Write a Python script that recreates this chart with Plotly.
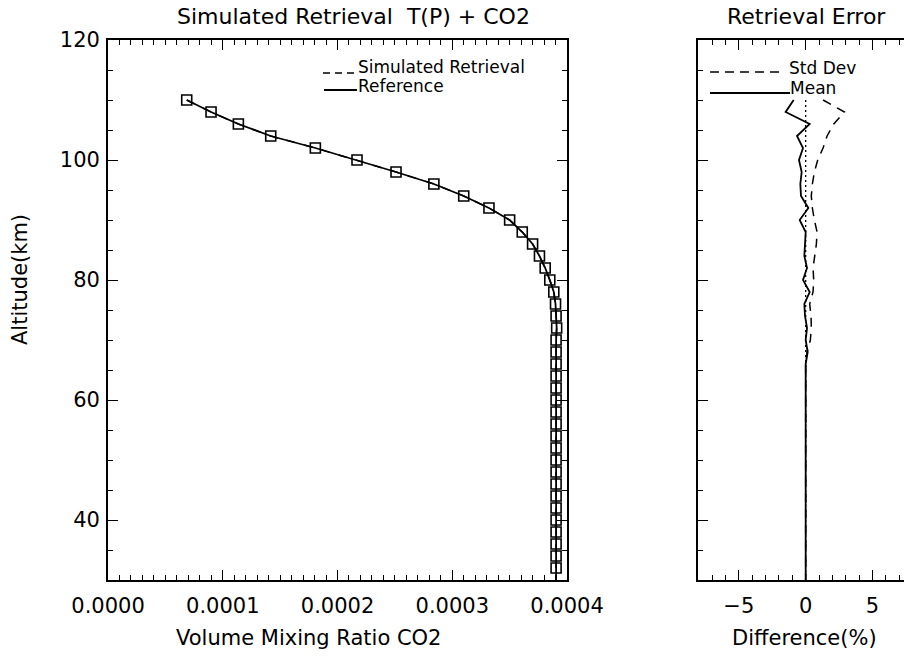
import plotly.graph_objects as go

# ---------------- data ----------------
alt_sim = [110, 108, 106, 104, 102, 100, 98, 96, 94, 92, 90, 88, 86, 84, 82, 80, 78, 76, 74, 72,
           70, 68, 66, 64, 62, 60, 58, 56, 54, 52, 50, 48, 46, 44, 42, 40, 38, 36, 34, 32]
vmr_sim = [0.686e-4, 0.898e-4, 1.136e-4, 1.418e-4, 1.807e-4, 2.170e-4, 2.510e-4, 2.840e-4, 3.100e-4,
           3.320e-4, 3.500e-4, 3.610e-4, 3.700e-4, 3.760e-4, 3.810e-4, 3.850e-4, 3.885e-4, 3.900e-4,
           3.905e-4, 3.910e-4, 3.905e-4, 3.905e-4, 3.905e-4, 3.905e-4, 3.905e-4, 3.905e-4, 3.905e-4,
           3.905e-4, 3.905e-4, 3.905e-4, 3.905e-4, 3.905e-4, 3.905e-4, 3.905e-4, 3.905e-4, 3.905e-4,
           3.905e-4, 3.905e-4, 3.905e-4, 3.905e-4]
alt_ref = [110, 108, 106, 104, 102, 100, 98, 96, 94, 92, 90, 88, 86, 84, 82, 80, 78, 76, 74, 72,
           70, 60, 50, 40, 30]
vmr_ref = [0.686e-4, 0.898e-4, 1.136e-4, 1.418e-4, 1.807e-4, 2.170e-4, 2.510e-4, 2.840e-4, 3.100e-4,
           3.320e-4, 3.500e-4, 3.610e-4, 3.700e-4, 3.760e-4, 3.810e-4, 3.850e-4, 3.885e-4, 3.900e-4,
           3.905e-4, 3.910e-4, 3.905e-4, 3.905e-4, 3.905e-4, 3.905e-4, 3.905e-4]

alt_err = [110, 108, 106, 104, 102, 100, 98, 96, 94, 92, 90, 88, 86, 84, 82, 80, 78, 76, 74, 72,
           70, 68, 66, 60, 50, 40, 30]
mean_err = [-0.9, -1.5, 0.3, -0.65, -0.2, -0.5, -0.3, -0.4, -0.35, 0.2, -0.45, 0.0, -0.05, -0.1, 0.1,
            -0.2, 0.3, -0.1, -0.05, 0.1, 0.0, 0.15, 0.0, 0.0, 0.0, 0.0, 0.0]
std_err = [1.3, 2.9, 2.1, 1.6, 1.3, 0.9, 0.65, 0.5, 0.42, 0.5, 0.65, 0.85, 0.8, 0.65, 0.55, 0.6, 0.55,
           0.3, 0.4, 0.42, 0.35, 0.1, 0.0, 0.0, 0.0, 0.0, 0.0]
zero_alt = [110, 30]
zero_val = [0, 0]

x1_tickvals = [0.0, 0.0001, 0.0002, 0.0003, 0.0004]
x1_ticktext = ["0.0000", "0.0001", "0.0002", "0.0003", "0.0004"]
x2_tickvals = [-5, 0, 5]
y_tickvals = [40, 60, 80, 100, 120]

# ---------------- figure ----------------
W, H = 904, 656
FONT = "DejaVu Sans"


def px(x):
    return x / W


def py(y):
    return 1 - y / H


fig = go.Figure()

fig.add_trace(go.Scatter(x=vmr_sim, y=alt_sim, mode="lines", xaxis="x", yaxis="y",
                         line=dict(color="black", width=1.5, dash="dash"), showlegend=False))
fig.add_trace(go.Scatter(x=vmr_ref, y=alt_ref, mode="lines", xaxis="x", yaxis="y",
                         line=dict(color="black", width=1.8), showlegend=False))
fig.add_trace(go.Scatter(x=vmr_sim, y=alt_sim, mode="markers", xaxis="x", yaxis="y",
                         marker=dict(symbol="square-open", size=10, color="black",
                                     line=dict(width=1.6, color="black")),
                         showlegend=False))

fig.add_trace(go.Scatter(x=zero_val, y=zero_alt, mode="lines", xaxis="x2", yaxis="y2",
                         line=dict(color="black", width=1.3, dash="2px,3px"), showlegend=False))
fig.add_trace(go.Scatter(x=std_err, y=alt_err, mode="lines", xaxis="x2", yaxis="y2",
                         line=dict(color="black", width=1.5, dash="9px,7px"), showlegend=False))
fig.add_trace(go.Scatter(x=mean_err, y=alt_err, mode="lines", xaxis="x2", yaxis="y2",
                         line=dict(color="black", width=1.8), showlegend=False))

axis_common = dict(showline=True, linecolor="black", linewidth=1.8, ticks="inside",
                   tickcolor="black", tickwidth=1.3, ticklen=10, showgrid=False, zeroline=False,
                   automargin=False,
                   tickfont=dict(family=FONT, size=21, color="black"))

fig.update_layout(
    width=W, height=H,
    margin=dict(l=0, r=0, t=0, b=0, pad=0),
    paper_bgcolor="white", plot_bgcolor="white",
    showlegend=False,
    xaxis=dict(domain=[px(108), px(567)], range=[0, 0.0004], anchor="y",
               tickvals=x1_tickvals, ticktext=x1_ticktext, mirror="ticks",
               minor=dict(ticks="inside", ticklen=5, dtick=0.00001, tickcolor="black", tickwidth=1.1),
               ticklabelstandoff=6, **axis_common),
    yaxis=dict(domain=[py(580), py(40)], range=[30, 120], anchor="x",
               tickvals=y_tickvals, mirror="ticks",
               minor=dict(ticks="inside", ticklen=5, dtick=5, tickcolor="black", tickwidth=1.1),
               ticklabelstandoff=2, **axis_common),
    xaxis2=dict(domain=[px(698), 1.0], range=[-8.05, 7.35], anchor="y2",
                tickvals=x2_tickvals, mirror="ticks",
                minor=dict(ticks="inside", ticklen=5, dtick=1, tickcolor="black", tickwidth=1.1),
                ticklabelstandoff=6, **axis_common),
    yaxis2=dict(domain=[py(580), py(40)], range=[30, 120], anchor="x2",
                tickvals=[40, 60, 80, 100, 120], showticklabels=False, mirror=False,
                minor=dict(ticks="inside", ticklen=5, dtick=5, tickcolor="black", tickwidth=1.1),
                **axis_common),
)

ann_font = dict(family=FONT, size=21, color="black")
leg_font = dict(family=FONT, size=17, color="black")
annotations = [
    dict(text="Simulated Retrieval  T(P) + CO2", x=px(353), y=py(17), xanchor="center", yanchor="middle",
         font=dict(family=FONT, size=22, color="black")),
    dict(text="Retrieval Error", x=px(806), y=py(17), xanchor="center", yanchor="middle",
         font=dict(family=FONT, size=22, color="black")),
    dict(text="Altitude(km)", x=px(20), y=py(280), xanchor="center", yanchor="middle", textangle=-90,
         font=ann_font),
    dict(text="Volume Mixing Ratio CO2", x=px(308), y=py(638), xanchor="center", yanchor="middle",
         font=ann_font),
    dict(text="Difference(%)", x=px(804), y=py(638), xanchor="center", yanchor="middle",
         font=ann_font),
    dict(text="Simulated Retrieval", x=px(356), y=py(67), xanchor="left", yanchor="middle",
         font=leg_font),
    dict(text="Reference", x=px(356), y=py(86), xanchor="left", yanchor="middle",
         font=leg_font),
    dict(text="Std Dev", x=px(787), y=py(68), xanchor="left", yanchor="middle",
         font=leg_font),
    dict(text="Mean", x=px(788), y=py(88), xanchor="left", yanchor="middle",
         font=leg_font),
]
for a in annotations:
    a.update(xref="paper", yref="paper", showarrow=False)
fig.update_layout(annotations=annotations)

shapes = [
    dict(type="line", x0=px(323), x1=px(356), y0=py(73), y1=py(73),
         line=dict(color="black", width=1.5, dash="7px,5px")),
    dict(type="line", x0=px(324), x1=px(357), y0=py(90), y1=py(90),
         line=dict(color="black", width=1.8)),
    dict(type="line", x0=px(710), x1=px(785), y0=py(72), y1=py(72),
         line=dict(color="black", width=1.5, dash="9px,6px")),
    dict(type="line", x0=px(710), x1=px(790), y0=py(93), y1=py(93),
         line=dict(color="black", width=1.8)),
]
for s in shapes:
    s.update(xref="paper", yref="paper")
fig.update_layout(shapes=shapes)

fig.write_html("out.html")
